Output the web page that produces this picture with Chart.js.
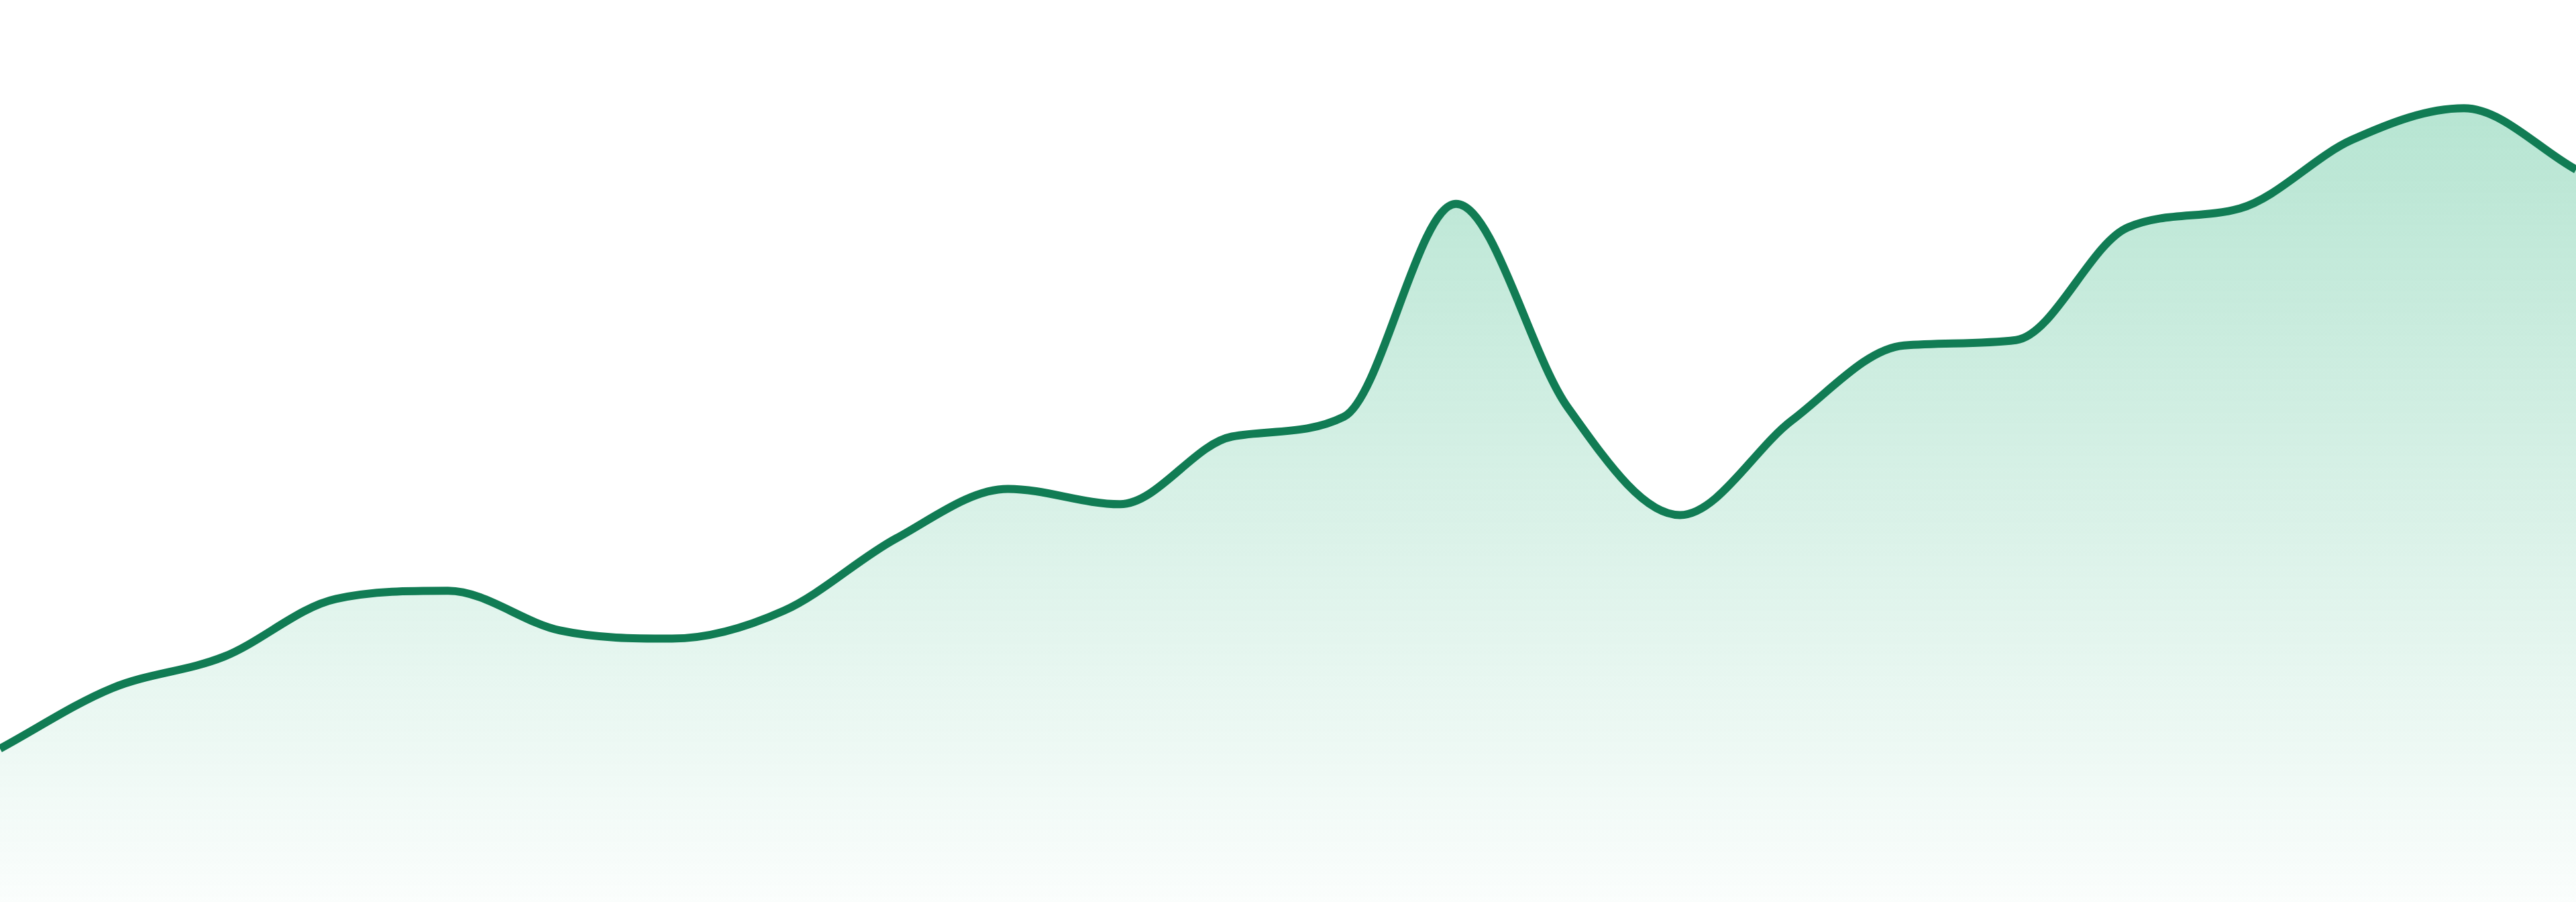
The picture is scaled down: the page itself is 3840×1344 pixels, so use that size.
<!DOCTYPE html>
<html>
<head>
<meta charset="utf-8">
<script src="https://cdn.jsdelivr.net/npm/chart.js@4.4.1/dist/chart.umd.min.js"></script>
<style>
  html, body { margin: 0; padding: 0; background: #ffffff; }
  #wrap { width: 3840px; height: 1344px; }
</style>
</head>
<body>
<div id="wrap"><canvas id="c" width="3840" height="1344"></canvas></div>
<script>
const labels = ["1","2","3","4","5","6","7","8","9","10","11","12","13","14","15","16","17","18","19","20","21","22","23","24"];
const values = [17.0, 23.7, 27.2, 33.6, 34.5, 30.1, 29.2, 32.3, 40.3, 45.8, 44.1, 51.6, 53.8, 77.4, 54.8, 42.9, 53.4, 61.7, 62.3, 74.8, 76.9, 84.5, 88.0, 81.2];
const yMin = 0;
const yMax = 100;
const lineColor = "rgb(17,124,84)";

const ctx = document.getElementById("c").getContext("2d");
new Chart(ctx, {
  type: "line",
  data: {
    labels: labels,
    datasets: [{
      data: values,
      borderColor: lineColor,
      borderWidth: 12,
      pointRadius: 0,
      pointHoverRadius: 0,
      cubicInterpolationMode: "monotone",
      fill: "start",
      backgroundColor: function(context) {
        const chart = context.chart;
        const area = chart.chartArea;
        if (!area) return "rgba(16,169,107,0.15)";
        const g = chart.ctx.createLinearGradient(0, area.top, 0, area.bottom);
        g.addColorStop(0, "rgba(16,169,107,0.34)");
        g.addColorStop(1, "rgba(16,169,107,0.02)");
        return g;
      }
    }]
  },
  options: {
    responsive: false,
    devicePixelRatio: 1,
    animation: false,
    layout: { padding: 0 },
    plugins: { legend: { display: false }, tooltip: { enabled: false } },
    scales: {
      x: { display: false, offset: false },
      y: { display: false, min: yMin, max: yMax }
    }
  }
});
</script>
</body>
</html>
